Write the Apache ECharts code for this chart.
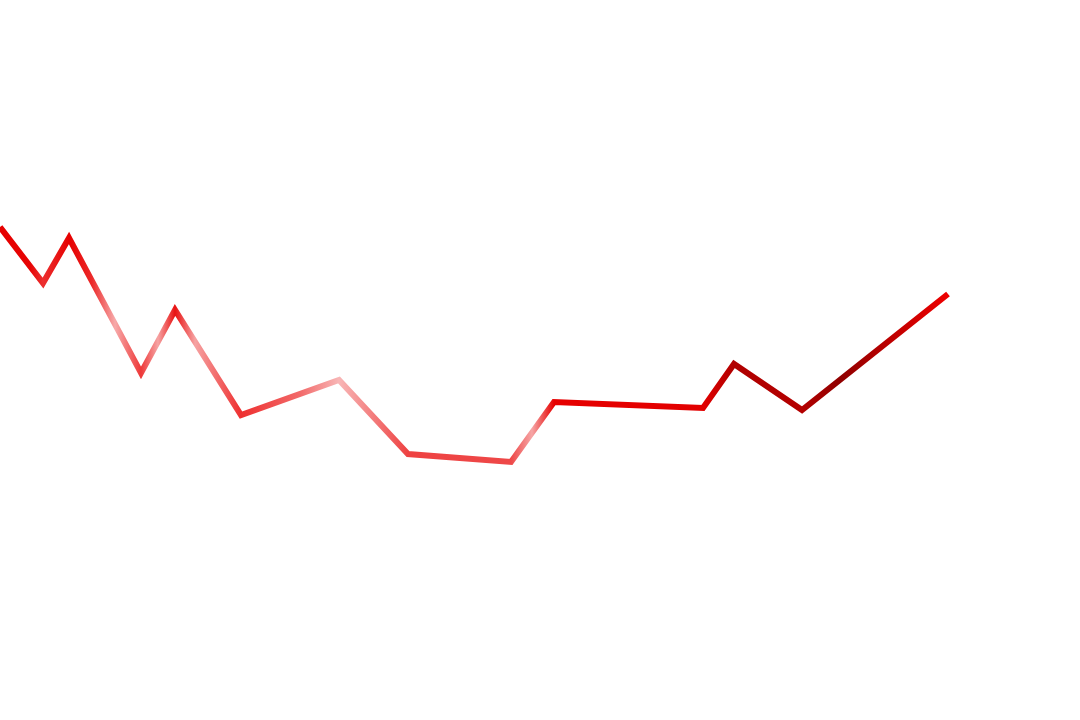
<!DOCTYPE html>
<html>
<head>
<meta charset="utf-8">
<script src="https://cdn.jsdelivr.net/npm/echarts@6/dist/echarts.min.js"></script>
<style>html,body{margin:0;padding:0;background:#fff;}#c{width:1080px;height:720px;}</style>
</head>
<body>
<div id="c"></div>
<script>
// x positions (arbitrary units, no visible axis) and values
var xValues = [0, 43, 69, 141, 175, 241, 339, 408, 511, 554, 703, 734, 802, 948];
var yValues = [493, 437, 482, 347, 410, 305, 340, 266, 258, 318, 312, 356, 310, 426];

var stops = [
  [0, '#e60000'], [30, '#e70404'], [43, '#ec3030'], [69, '#e60000'], [92, '#ec2a2a'],
  [115, '#f7aaaa'], [141, '#ee3838'], [158, '#f6a4a4'], [175, '#e81212'], [195, '#f6a2a2'],
  [241, '#ee3030'], [300, '#f26a6a'], [339, '#f8b6b6'], [408, '#ee4242'], [511, '#ee4848'],
  [532, '#f6a6a6'], [554, '#e60000'], [703, '#e20000'], [734, '#b00000'], [802, '#b40000'],
  [840, '#900000'], [900, '#c60000'], [948, '#ee0000']
];

var chart = echarts.init(document.getElementById('c'));
chart.setOption({
  animation: false,
  grid: {left: 0, right: 0, top: 0, bottom: 0},
  xAxis: {type: 'value', min: 0, max: 1080, show: false},
  yAxis: {type: 'value', min: 0, max: 720, show: false},
  series: [{
    type: 'line',
    showSymbol: false,
    data: xValues.map(function (x, i) { return [x, yValues[i]]; }),
    lineStyle: {
      width: 6,
      join: 'miter',
      cap: 'butt',
      color: {
        type: 'linear', x: 0, y: 0, x2: 1080, y2: 0, global: true,
        colorStops: stops.map(function (s) { return {offset: s[0] / 1080, color: s[1]}; })
      }
    }
  }]
});
</script>
</body>
</html>
